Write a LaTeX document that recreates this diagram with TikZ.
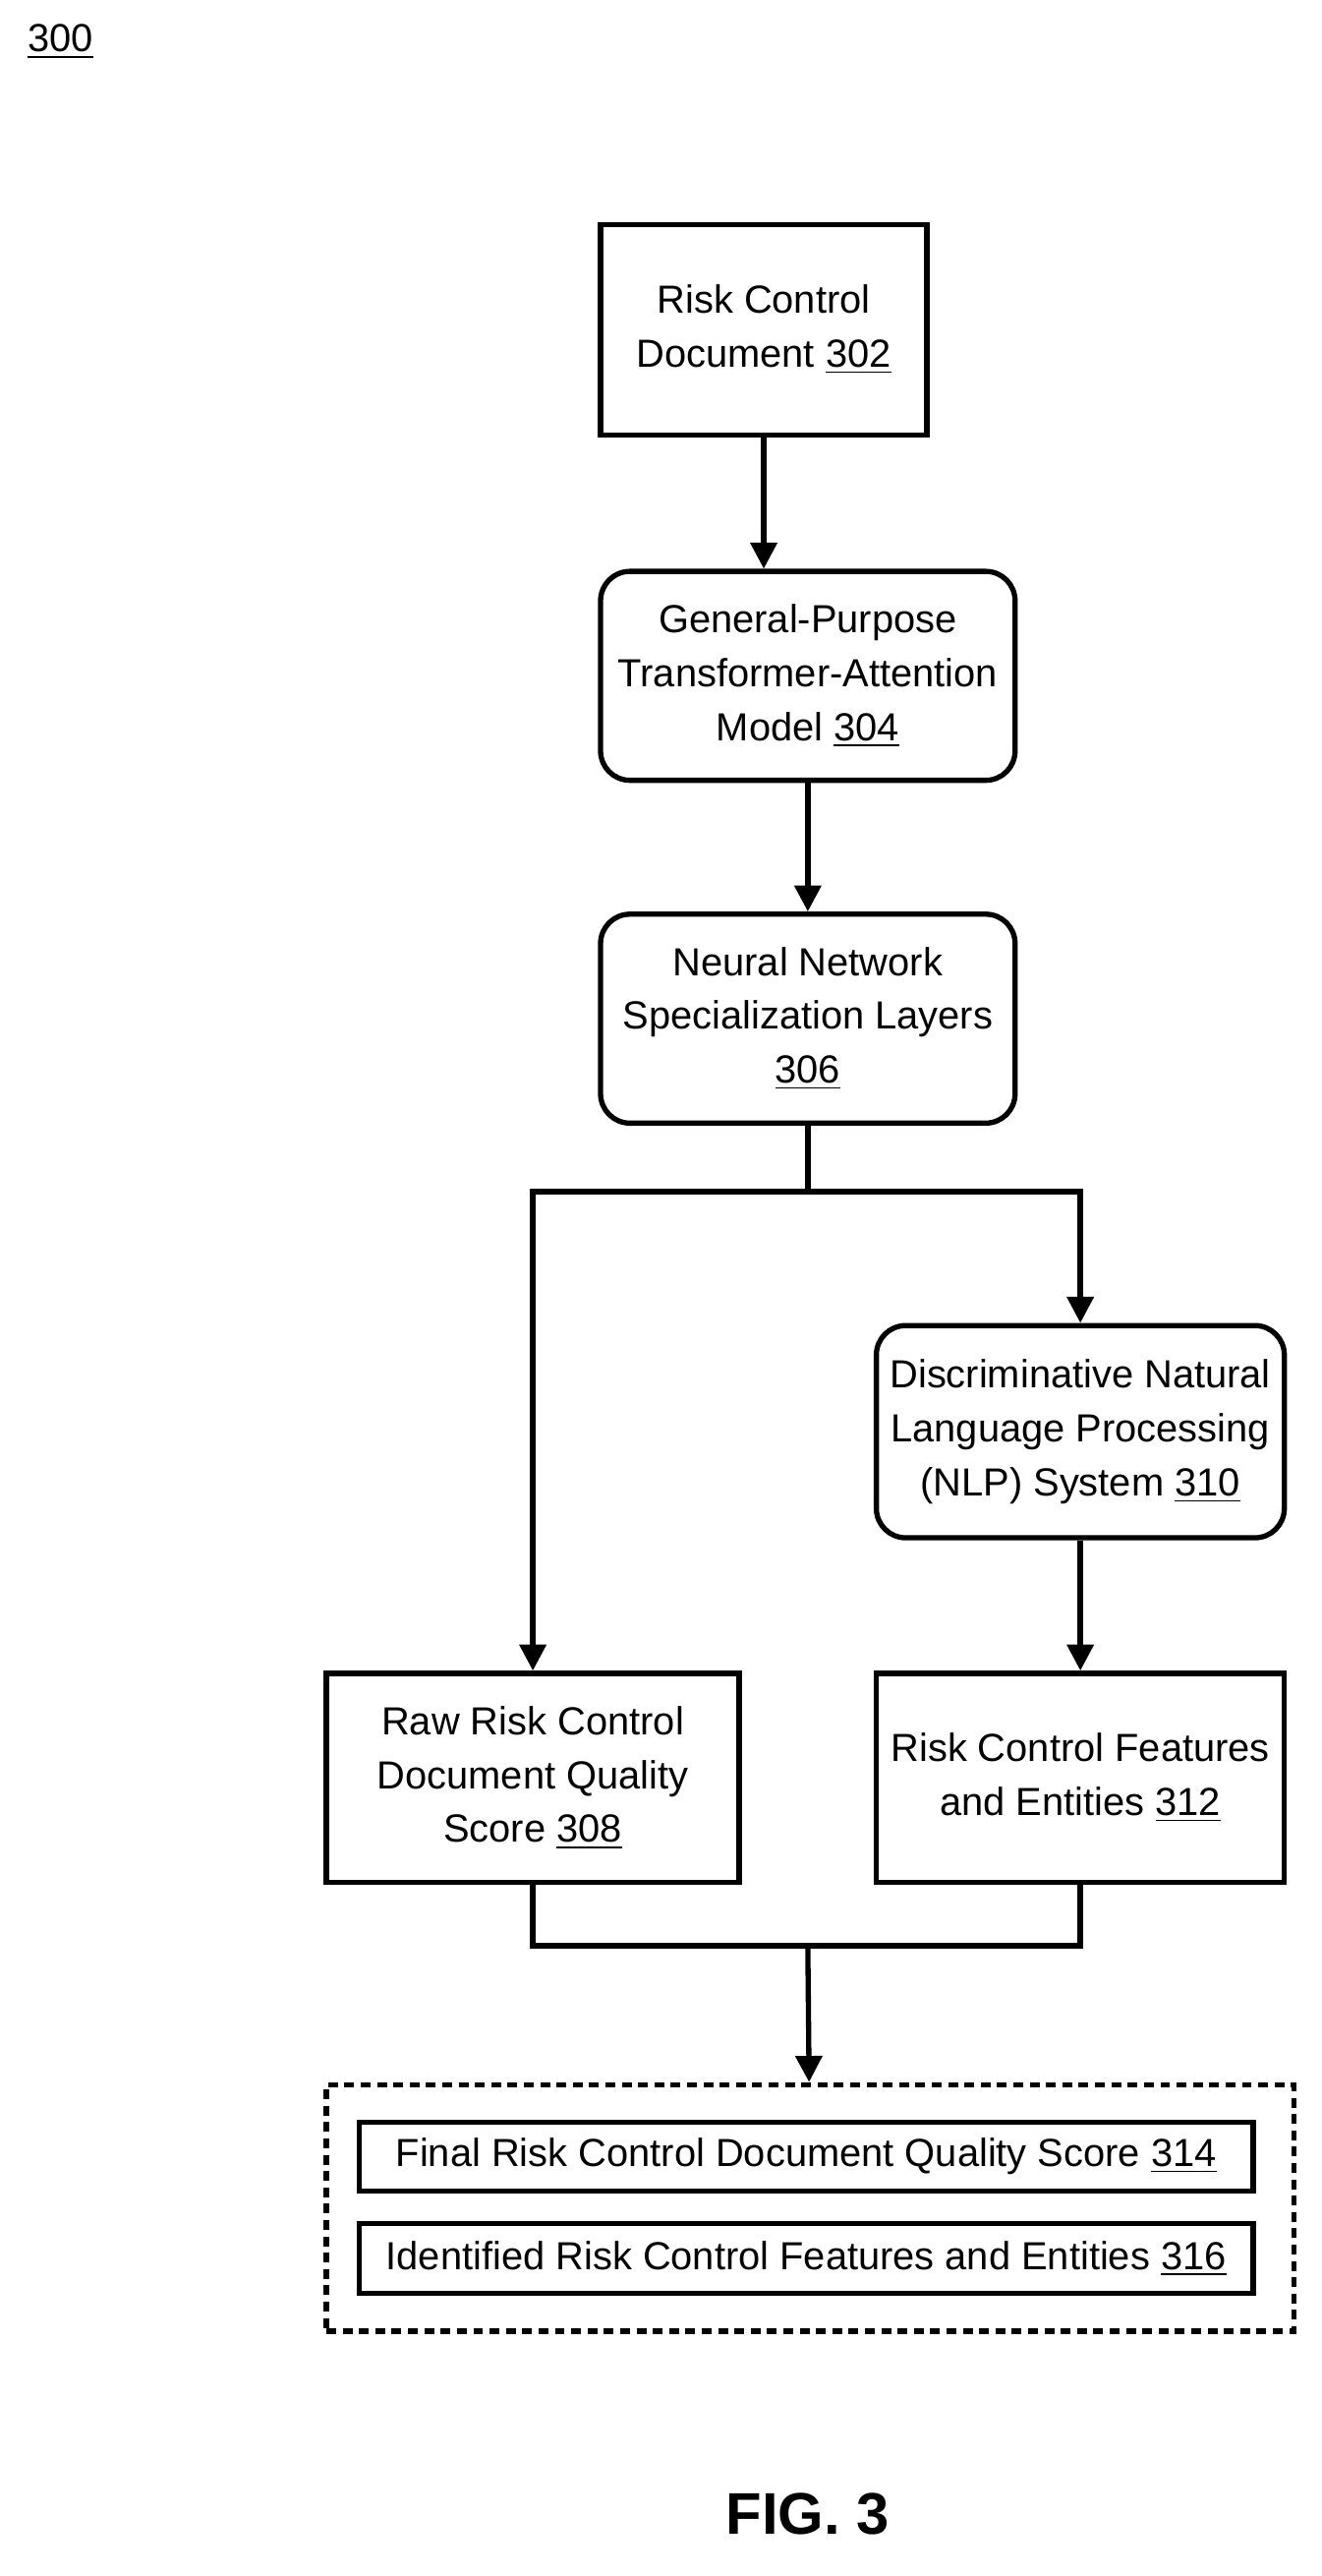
\documentclass[tikz,border=0pt]{standalone}
\usepackage{fontspec}
\setmainfont{Liberation Sans}
\usetikzlibrary{arrows.meta,positioning}
\tikzstyle{block}=[draw,line width=1.6pt,align=center,font=\fontsize{12}{16.5}\selectfont,inner sep=0pt]
\tikzstyle{rblock}=[block,rounded corners=9pt]
\tikzstyle{flow}=[line width=1.6pt,-{Triangle[length=8pt,width=8pt]}]
\begin{document}
\begin{tikzpicture}[x=0.5pt,y=-0.5pt]
\useasboundingbox (0,0) rectangle (810,1578);
\node [anchor=north west,font=\fontsize{12}{14}\selectfont] (fignum) at (10,8) {\underline{300}};
\node [block,minimum width=100pt,minimum height=64.5pt] (doc) at (468,202) {Risk Control\\Document \underline{302}};
\node [rblock,minimum width=127pt,minimum height=64pt] (gpt) at (495,414) {General-Purpose\\Transformer-Attention\\Model \underline{304}};
\node [rblock,minimum width=127pt,minimum height=64pt] (nnsl) at (495,624) {Neural Network\\Specialization Layers\\\underline{306}};
\node [rblock,minimum width=125pt,minimum height=65pt] (nlp) at (662,877) {Discriminative Natural\\Language Processing\\(NLP) System \underline{310}};
\node [block,minimum width=126.5pt,minimum height=64pt] (raw) at (326.5,1089) {Raw Risk Control\\Document Quality\\Score \underline{308}};
\node [block,minimum width=125pt,minimum height=64pt] (feat) at (662,1089) {Risk Control Features\\and Entities \underline{312}};
\node [draw,line width=1.6pt,dash pattern=on 3pt off 2pt,minimum width=296.5pt,minimum height=75.5pt] (out) at (496.5,1352.5) {};
\node [block,minimum width=274pt,minimum height=21pt] (final) at (494,1321) {Final Risk Control Document Quality Score \underline{314}};
\node [block,minimum width=274pt,minimum height=21.5pt] (ident) at (494,1383.5) {Identified Risk Control Features and Entities \underline{316}};
\node [font=\bfseries\fontsize{18}{20}\selectfont] (cap) at (495,1540) {FIG. 3};
\coordinate (split) at (495,730);
\coordinate (merge) at (495,1192);
\draw [flow] (doc) -- (doc|-gpt.north);
\draw [flow] (gpt) -- (nnsl);
\draw [line width=1.6pt] (nnsl) -- (split);
\draw [flow] (split) -| (raw);
\draw [flow] (split) -| (nlp);
\draw [flow] (nlp) -- (feat);
\draw [line width=1.6pt] (raw) |- (merge) -| (feat);
\draw [flow] (merge) -- (out);
\end{tikzpicture}
\end{document}
